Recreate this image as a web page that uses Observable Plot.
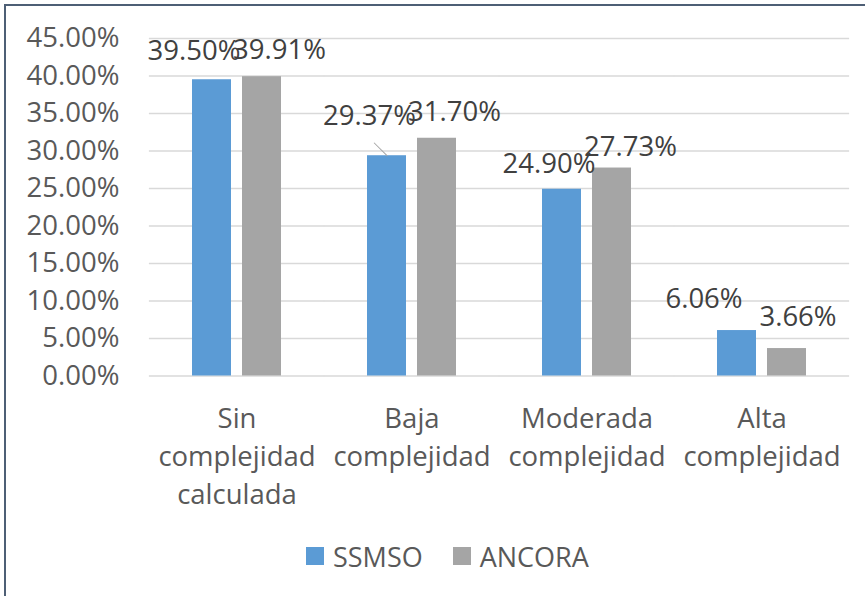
<!DOCTYPE html>
<html><head><meta charset="utf-8">
<script src="https://cdn.jsdelivr.net/npm/d3@7"></script>
<script src="https://cdn.jsdelivr.net/npm/@observablehq/plot@0.6"></script>
<style>
body{margin:0;background:#fff;font-family:"Open Sans",sans-serif;}
#wrap{position:relative;width:865px;height:596px;overflow:hidden;background:#fff;}
#chart{position:absolute;left:0;top:0;}
#border{position:absolute;left:4px;top:4px;right:-10px;bottom:-10px;border-left:2px solid #4E5F75;border-top:2px solid #4E5F75;pointer-events:none;}
#legend{position:absolute;top:538px;left:306px;height:36px;display:flex;align-items:center;font-size:27px;color:#595959;white-space:nowrap;}
#legend .sw{display:inline-block;width:18px;height:18px;margin-right:9px;}
#legend .item{display:flex;align-items:center;margin-right:30px;}
</style></head><body>
<div id="wrap"><div id="chart"></div><div id="legend"></div><div id="border"></div></div>
<script>
const categories = ["Sin\ncomplejidad\ncalculada", "Baja\ncomplejidad", "Moderada\ncomplejidad", "Alta\ncomplejidad"];
const seriesNames = ["SSMSO", "ANCORA"];
const ssmso = [39.50, 29.37, 24.90, 6.06];
const ancora = [39.91, 31.70, 27.73, 3.66];
const yTicks = [0, 5, 10, 15, 20, 25, 30, 35, 40, 45];
const colors = ["#5B9BD5", "#A5A5A5"];
// label nudges (layout only, px) [category][series]
const labelDx = [[-18, 17.5], [-17.5, 17.5], [-13, 18.5], [-33, 11]];
const labelDy = [[-29, -26], [-40, -26], [-25, -21], [-31, -31]];

const W = 865, ML = 148, MR = 16;
const FS = 27.5;
const fxPad = 0.492;
const fxStep = (W - ML - MR) / categories.length;
const gapHalf = fxStep * fxPad / 2; // distance from frame edge to first facet band

const rows = [];
categories.forEach((c, i) => {
  rows.push({cat: c, series: seriesNames[0], value: ssmso[i], i, s: 0});
  rows.push({cat: c, series: seriesNames[1], value: ancora[i], i, s: 1});
});

const labelMarks = rows.map(r => Plot.text([r], {
  fx: "cat", x: "series", y: "value",
  text: d => d.value.toFixed(2) + "%",
  dx: labelDx[r.i][r.s], dy: labelDy[r.i][r.s],
  fill: "#404040", fontSize: FS
}));

const leader = Plot.vector([rows[2]], {
  fx: "cat", x: "series", y: "value",
  length: 18, rotate: -45, anchor: "start",
  stroke: "#A6A6A6", strokeWidth: 1,
  shape: {draw(ctx, l) { ctx.moveTo(0, 0); ctx.lineTo(0, -l); }}
});

const chart = Plot.plot({
  width: W,
  height: 530,
  marginLeft: ML,
  marginRight: MR,
  marginTop: 38,
  marginBottom: 154.5,
  style: {fontFamily: "'Open Sans', sans-serif", fontSize: FS + "px", color: "#595959", background: "transparent"},
  fx: {domain: categories, paddingInner: fxPad, paddingOuter: fxPad / 2, axis: null, label: null},
  x: {domain: seriesNames, paddingInner: 0.22, paddingOuter: 0, axis: null, label: null},
  y: {domain: [0, 45], axis: null, label: null},
  color: {domain: seriesNames, range: colors},
  marks: [
    Plot.ruleY(yTicks, {y: d => d, stroke: "#D9D9D9", strokeWidth: 1.3, insetLeft: -gapHalf, insetRight: -gapHalf}),
    Plot.axisY({ticks: yTicks, tickFormat: d => d.toFixed(2) + "%", tickSize: 0, tickPadding: 30 + gapHalf, label: null, fontSize: FS, fill: "#595959"}),
    Plot.barY(rows, {fx: "cat", x: "series", y: "value", fill: "series"}),
    leader,
    ...labelMarks,
    Plot.text(categories, {fx: d => d, text: d => d, frameAnchor: "bottom", lineAnchor: "top", dy: 25, lineHeight: 1.38, fontSize: FS, fill: "#595959"})
  ]
});
document.getElementById("chart").appendChild(chart);

const legend = document.getElementById("legend");
seriesNames.forEach((s, k) => {
  const it = document.createElement("div");
  it.className = "item";
  const sw = document.createElement("span");
  sw.className = "sw";
  sw.style.background = colors[k];
  it.appendChild(sw);
  it.appendChild(document.createTextNode(s));
  legend.appendChild(it);
});
</script>
</body></html>
